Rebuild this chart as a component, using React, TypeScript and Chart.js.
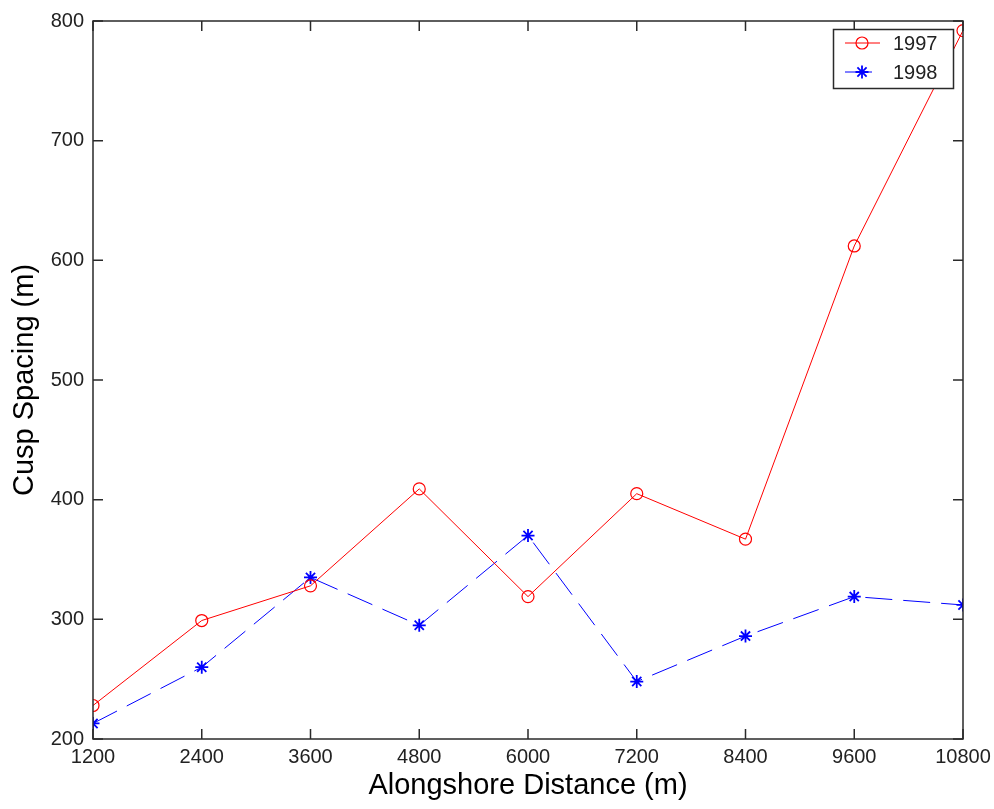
import React, { useEffect, useRef } from "react";
import { Chart, registerables } from "chart.js";
import { drawPoint } from "chart.js/helpers";

Chart.register(...registerables);

const distances = [1200, 2400, 3600, 4800, 6000, 7200, 8400, 9600, 10800];
const spacing1997 = [228, 299, 328, 409, 319, 405, 367, 612, 792];
const spacing1998 = [213, 260, 335, 295, 370, 248, 286, 319, 312];
const xTickValues = [1200, 2400, 3600, 4800, 6000, 7200, 8400, 9600, 10800];
const yTickValues = [200, 300, 400, 500, 600, 700, 800];
const seriesLabels = ["1997", "1998"];

const FONT = "'Liberation Sans', Arial, Helvetica, sans-serif";
const AXIS_COLOR = "#2a2a2a";

const boxTicksPlugin = {
  id: "boxTicks",
  afterDraw(chart: any) {
    const { ctx, chartArea } = chart;
    const { left, right, top, bottom } = chartArea;
    const xs = chart.scales.x;
    const ys = chart.scales.y;
    const tl = 10;
    ctx.save();
    ctx.strokeStyle = AXIS_COLOR;
    ctx.lineWidth = 1.5;
    ctx.strokeRect(left, top, right - left, bottom - top);
    ctx.beginPath();
    xs.ticks.forEach((t: any) => {
      const px = xs.getPixelForValue(t.value);
      ctx.moveTo(px, bottom);
      ctx.lineTo(px, bottom - tl);
      ctx.moveTo(px, top);
      ctx.lineTo(px, top + tl);
    });
    ys.ticks.forEach((t: any) => {
      const py = ys.getPixelForValue(t.value);
      ctx.moveTo(left, py);
      ctx.lineTo(left + tl, py);
      ctx.moveTo(right, py);
      ctx.lineTo(right - tl, py);
    });
    ctx.stroke();
    ctx.restore();
  },
};

const legendPlugin = {
  id: "matlabLegend",
  afterDraw(chart: any) {
    const { ctx } = chart;
    const bx = 833.5, by = 29.5, bw = 120, bh = 59;
    ctx.save();
    ctx.fillStyle = "#ffffff";
    ctx.fillRect(bx, by, bw, bh);
    ctx.strokeStyle = AXIS_COLOR;
    ctx.lineWidth = 1.5;
    ctx.strokeRect(bx, by, bw, bh);
    const rows = [43, 72];
    chart.data.datasets.forEach((ds: any, i: number) => {
      const y = rows[i];
      ctx.save();
      ctx.strokeStyle = ds.borderColor;
      ctx.lineWidth = ds.borderWidth;
      ctx.setLineDash(ds.borderDash || []);
      ctx.beginPath();
      ctx.moveTo(845, y);
      ctx.lineTo(880, y);
      ctx.stroke();
      ctx.restore();
      ctx.save();
      ctx.strokeStyle = ds.pointBorderColor;
      ctx.fillStyle = "transparent";
      ctx.lineWidth = ds.pointBorderWidth;
      drawPoint(ctx, { pointStyle: ds.pointStyle, radius: ds.pointRadius, borderWidth: ds.pointBorderWidth, rotation: 0 } as any, 862, y);
      ctx.restore();
      ctx.fillStyle = "#222";
      ctx.font = `20px ${FONT}`;
      ctx.textAlign = "left";
      ctx.textBaseline = "middle";
      ctx.fillText(ds.label, 893, y + 1);
    });
    ctx.restore();
  },
};

export default function App() {
  const ref = useRef<HTMLCanvasElement>(null);
  useEffect(() => {
    const canvas = ref.current;
    if (!canvas) return;
    const chart = new Chart(canvas, {
      type: "line",
      data: {
        datasets: [
          {
            label: seriesLabels[0],
            data: distances.map((d, i) => ({ x: d, y: spacing1997[i] })),
            borderColor: "#ff0000",
            borderWidth: 1,
            pointStyle: "circle",
            pointRadius: 6,
            pointBorderWidth: 1.2,
            pointBorderColor: "#ff0000",
            pointBackgroundColor: "rgba(0,0,0,0)",
            fill: false,
            tension: 0,
          },
          {
            label: seriesLabels[1],
            data: distances.map((d, i) => ({ x: d, y: spacing1998[i] })),
            borderColor: "#0000ff",
            borderWidth: 1,
            borderDash: [27, 11],
            pointStyle: "star",
            pointRadius: 6.5,
            pointBorderWidth: 1.8,
            pointBorderColor: "#0000ff",
            pointBackgroundColor: "#0000ff",
            fill: false,
            tension: 0,
          },
        ],
      },
      options: {
        responsive: false,
        devicePixelRatio: 1,
        animation: false,
        events: [],
        layout: { padding: { top: 19, right: 31, left: 0, bottom: 0 } },
        plugins: {
          legend: { display: false },
          tooltip: { enabled: false },
        },
        scales: {
          x: {
            type: "linear",
            min: 1200,
            max: 10800,
            afterBuildTicks: (s: any) => {
              s.ticks = xTickValues.map((v) => ({ value: v }));
            },
            afterFit: (s: any) => {
              s.height = 70;
            },
            grid: { display: false },
            border: { display: false },
            ticks: {
              autoSkip: false,
              maxRotation: 0,
              padding: -2,
              color: "#222",
              font: { family: FONT, size: 20 },
              callback: (v: any) => String(v),
            },
            title: {
              display: true,
              text: "Alongshore Distance (m)",
              color: "#000",
              font: { family: FONT, size: 29 },
              padding: { top: 0, bottom: 6 },
            },
          },
          y: {
            type: "linear",
            min: 200,
            max: 800,
            afterBuildTicks: (s: any) => {
              s.ticks = yTickValues.map((v) => ({ value: v }));
            },
            afterFit: (s: any) => {
              s.width = 93;
            },
            grid: { display: false, drawTicks: false },
            border: { display: false },
            ticks: {
              padding: 9,
              color: "#222",
              font: { family: FONT, size: 20 },
              callback: (v: any) => String(v),
            },
            title: {
              display: true,
              text: "Cusp Spacing (m)",
              color: "#000",
              font: { family: FONT, size: 29 },
              padding: { top: 8, bottom: 0 },
            },
          },
        },
      },
      plugins: [boxTicksPlugin, legendPlugin],
    } as any);
    return () => chart.destroy();
  }, []);
  return (
    <div style={{ position: "fixed", left: 0, top: 0, width: 994, height: 809, background: "#fff" }}>
      <canvas ref={ref} width={994} height={809} style={{ display: "block", width: 994, height: 809 }} />
    </div>
  );
}
